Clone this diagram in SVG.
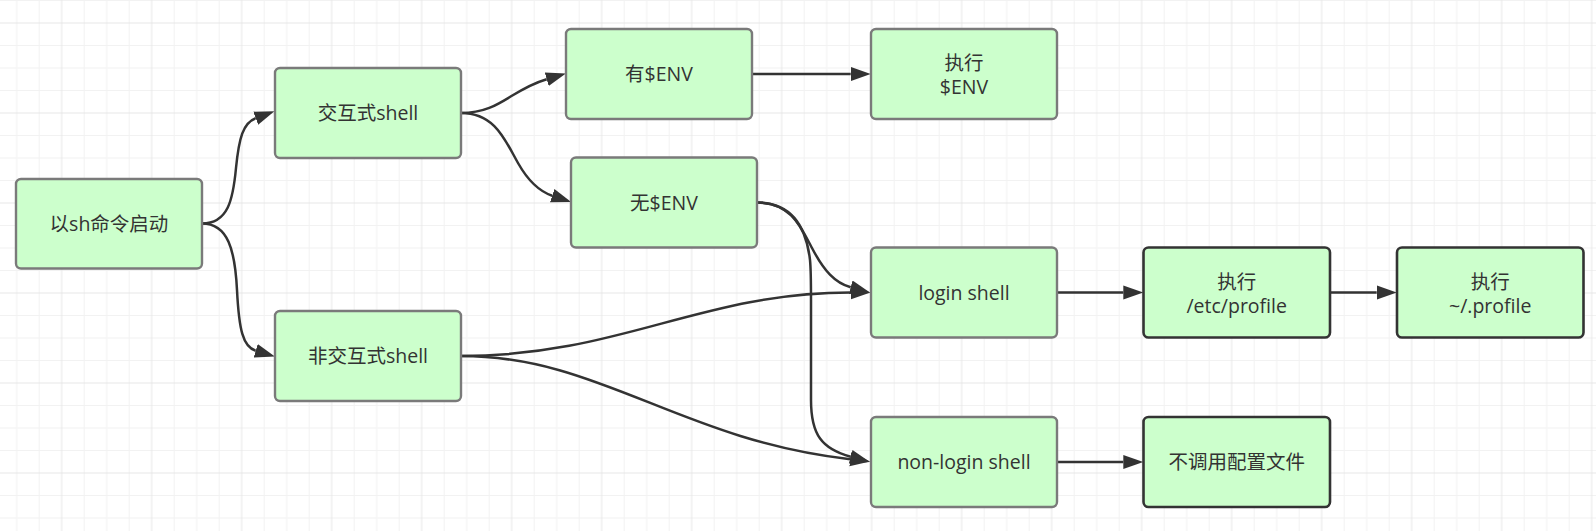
<svg xmlns="http://www.w3.org/2000/svg" width="1596" height="531" viewBox="0 0 1596 531">
<style>
.node rect{fill:#ccffcc;stroke:#7a7a7a;stroke-width:2.4}
.node.dark rect{stroke:#333333;stroke-width:2.6}
.node text{font-family:"Open Sans","Noto Sans","Noto Sans CJK SC",sans-serif;font-size:19.5px;fill:#333333;text-anchor:middle}
.edge{fill:none;stroke:#333333;stroke-width:2.5}
</style>
<defs>
<pattern id="grid" patternUnits="userSpaceOnUse" x="-28.3" y="-67" width="90" height="90">
<rect x="22" y="0" width="1" height="90" fill="#f2f2f2"/>
<rect x="44.5" y="0" width="1" height="90" fill="#f2f2f2"/>
<rect x="67" y="0" width="1" height="90" fill="#f2f2f2"/>
<rect x="0" y="22" width="90" height="1" fill="#f2f2f2"/>
<rect x="0" y="44.5" width="90" height="1" fill="#f2f2f2"/>
<rect x="0" y="67" width="90" height="1" fill="#f2f2f2"/>
<rect x="-0.5" y="0" width="1" height="90" fill="#e6e6e6"/>
<rect x="89.5" y="0" width="1" height="90" fill="#e6e6e6"/>
<rect x="0" y="-0.5" width="90" height="1" fill="#e6e6e6"/>
<rect x="0" y="89.5" width="90" height="1" fill="#e6e6e6"/>
</pattern>
<marker id="arrow" markerUnits="userSpaceOnUse" markerWidth="22" markerHeight="16" refX="0" refY="7" orient="auto" viewBox="0 0 22 14">
<path d="M0,0 L20,7 L0,14 z" fill="#333333"/>
</marker>
</defs>
<rect x="0" y="0" width="1596" height="531" fill="#ffffff"/>
<rect x="0" y="0" width="1596" height="531" fill="url(#grid)"/>

<g id="connectors">
<path class="edge" marker-end="url(#arrow)" d="M202 223.5 C228 223.5 233 200 236 168 C239 138 243 123 255.7 118.2"/>
<path class="edge" marker-end="url(#arrow)" d="M202 223.5 C228 223.5 235 250 237 290 C239 330 243 347 255.7 350.8"/>
<path class="edge" marker-end="url(#arrow)" d="M461 113 C500 113 510 90 546.7 79.2"/>
<path class="edge" marker-end="url(#arrow)" d="M461 113 C495 113 505 140 518 163 C528 180.7 538 191 552.2 195.7"/>
<path class="edge" marker-end="url(#arrow)" d="M752 74 L850.7 74"/>
<path class="edge" marker-end="url(#arrow)" d="M757 202.5 C790 202.5 800 225 812 248 C824 271 835 283 850.7 287.3"/>
<path class="edge" marker-end="url(#arrow)" d="M757 202.5 C790 202.5 806 225 810 260 C811 270 811 280 811 300 L811 400 C811 435 822 449 850.7 456.8"/>
<path class="edge" marker-end="url(#arrow)" d="M461 356 C620 356 700 292.5 850.5 292.5"/>
<path class="edge" marker-end="url(#arrow)" d="M461 356 C600 356 680 440 850.2 459.2"/>
<path class="edge" marker-end="url(#arrow)" d="M1057 292.5 L1123.3 292.5"/>
<path class="edge" marker-end="url(#arrow)" d="M1330 292.5 L1376.7 292.5"/>
<path class="edge" marker-end="url(#arrow)" d="M1057 462 L1123.3 462"/>
</g>

<g id="n-start" class="node"><rect x="16" y="179" width="186" height="89.5" rx="5"/><text x="109" y="230.5">以sh命令启动</text></g>
<g id="n-interactive" class="node"><rect x="275" y="68" width="186" height="90" rx="5"/><text x="368" y="120">交互式shell</text></g>
<g id="n-noninteractive" class="node"><rect x="275" y="311" width="186" height="90" rx="5"/><text x="368" y="363">非交互式shell</text></g>
<g id="n-hasenv" class="node"><rect x="566" y="29" width="186" height="90" rx="5"/><text x="659" y="81">有$ENV</text></g>
<g id="n-execenv" class="node"><rect x="871" y="29" width="186" height="90" rx="5"/><text x="964" y="70">执行</text><text x="964" y="94">$ENV</text></g>
<g id="n-noenv" class="node"><rect x="571" y="157.5" width="186" height="90" rx="5"/><text x="664" y="209.5">无$ENV</text></g>
<g id="n-login" class="node"><rect x="871" y="247.5" width="186" height="90" rx="5"/><text x="964" y="299.5">login shell</text></g>
<g id="n-etcprofile" class="node dark"><rect x="1143.5" y="247.5" width="186.5" height="90" rx="5"/><text x="1236.7" y="288.5">执行</text><text x="1236.7" y="312.5">/etc/profile</text></g>
<g id="n-homeprofile" class="node dark"><rect x="1397" y="247.5" width="186.5" height="90" rx="5"/><text x="1490.2" y="288.5">执行</text><text x="1490.2" y="312.5">~/.profile</text></g>
<g id="n-nonlogin" class="node"><rect x="871" y="417" width="186" height="90" rx="5"/><text x="964" y="469">non-login shell</text></g>
<g id="n-noconfig" class="node dark"><rect x="1143.5" y="417" width="186.5" height="90" rx="5"/><text x="1236.7" y="469">不调用配置文件</text></g>
</svg>
